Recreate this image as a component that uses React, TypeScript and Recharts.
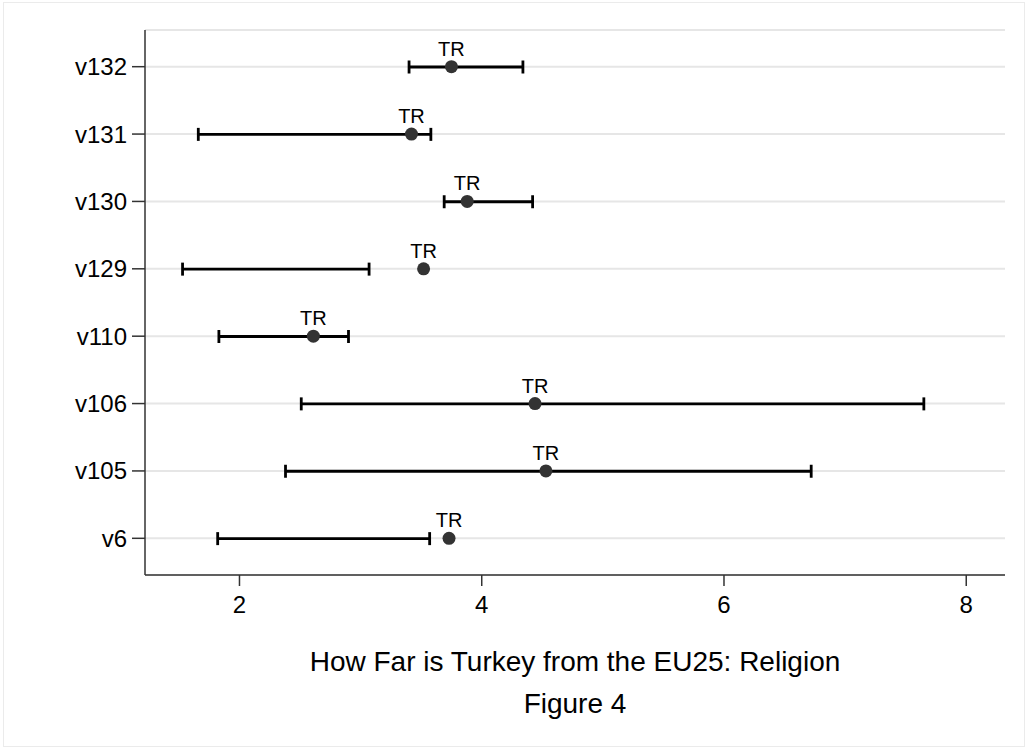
import React from "react"
import {
  ComposedChart,
  Bar,
  Line,
  XAxis,
  YAxis,
  CartesianGrid,
  LabelList,
} from "recharts"

// rows from top to bottom
const vars = ["v132", "v131", "v130", "v129", "v110", "v106", "v105", "v6"]
const turkey = [3.75, 3.42, 3.88, 3.52, 2.61, 4.44, 4.53, 3.73]
const euLow = [3.4, 1.66, 3.69, 1.53, 1.83, 2.51, 2.38, 1.82]
const euHigh = [4.34, 3.58, 4.42, 3.07, 2.9, 7.65, 6.72, 3.57]
const xTicks = [2, 4, 6, 8]

const data = vars.map((name, i) => ({
  name,
  tr: turkey[i],
  range: [euLow[i], euHigh[i]],
}))

const font = "'Liberation Sans', Arial, sans-serif"

// range bar drawn as a whisker with end caps
const Whisker = (props: any) => {
  const { x, y, width, height } = props
  if (x == null || width == null) return null
  const mid = y + height / 2
  const x2 = x + width
  return (
    <g stroke="#000" strokeWidth={2.8} fill="none">
      <line x1={x} y1={mid} x2={x2} y2={mid} />
      <line x1={x} y1={mid - 6.5} x2={x} y2={mid + 6.5} />
      <line x1={x2} y1={mid - 6.5} x2={x2} y2={mid + 6.5} />
    </g>
  )
}

const titleStyle: React.CSSProperties = {
  position: "absolute",
  left: 145,
  width: 860,
  textAlign: "center",
  fontSize: 28,
  lineHeight: "28px",
  color: "#000",
}

export default function App() {
  return (
    <div
      style={{
        position: "absolute",
        left: 0,
        top: 0,
        width: 1027,
        height: 749,
        background: "#fff",
        fontFamily: font,
      }}
    >
      <div
        style={{
          position: "absolute",
          left: 3,
          top: 2,
          width: 1020,
          height: 743,
          border: "1px solid #ebebeb",
        }}
      />
      <ComposedChart
        width={1027}
        height={749}
        data={data}
        layout="vertical"
        margin={{ top: 30, right: 22, bottom: 144, left: 0 }}
        style={{ position: "absolute", left: 0, top: 0 }}
      >
        <CartesianGrid
          horizontal
          vertical={false}
          stroke="#e6e6e6"
          strokeWidth={2}
        />
        <XAxis
          type="number"
          domain={[1.22, 8.32]}
          ticks={xTicks}
          allowDataOverflow
          stroke="#333"
          strokeWidth={1.5}
          tickSize={11}
          tickMargin={10}
          tick={{ fontSize: 24, fill: "#000", fontFamily: font }}
          height={30}
        />
        <YAxis
          type="category"
          dataKey="name"
          width={145}
          padding={{ top: 3, bottom: 3 }}
          stroke="#333"
          strokeWidth={1.5}
          tickSize={13}
          tickMargin={5}
          tick={{ fontSize: 24, fill: "#000", fontFamily: font }}
        />
        <Bar
          dataKey="range"
          barSize={12}
          shape={<Whisker />}
          isAnimationActive={false}
        />
        <Line
          dataKey="tr"
          stroke="none"
          dot={{ r: 6.5, fill: "#333", stroke: "#333", strokeWidth: 0 }}
          activeDot={false}
          isAnimationActive={false}
        >
          <LabelList
            dataKey="name"
            position="top"
            offset={11}
            formatter={() => "TR"}
            style={{ fontSize: 20, fill: "#000", fontFamily: font }}
          />
        </Line>
      </ComposedChart>
      <div style={{ ...titleStyle, top: 648 }}>
        How Far is Turkey from the EU25: Religion
      </div>
      <div style={{ ...titleStyle, top: 690 }}>Figure 4</div>
    </div>
  )
}
